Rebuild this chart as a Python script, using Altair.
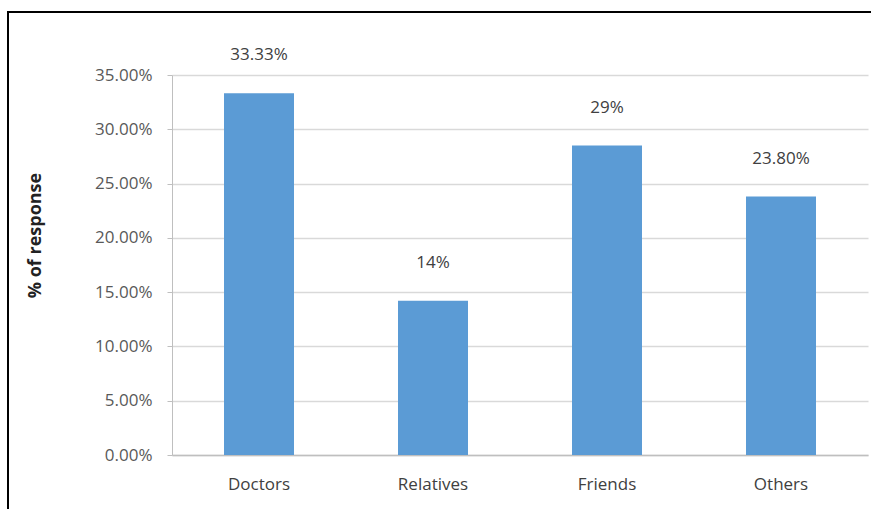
import altair as alt
import pandas as pd

categories = ["Doctors", "Relatives", "Friends", "Others"]
values = [0.3333, 0.142, 0.285, 0.238]
labels = ["33.33%", "14%", "29%", "23.80%"]

df = pd.DataFrame({"cat": categories, "val": values, "lab": labels})

FONT = "Open Sans"

base = alt.Chart(df).encode(
    x=alt.X("cat:N", sort=categories, title=None,
            scale=alt.Scale(paddingInner=0, paddingOuter=0),
            axis=alt.Axis(labelAngle=0, labelFont=FONT, labelFontSize=17, labelColor="#404040",
                          labelPadding=21, ticks=False, domainColor="#bfbfbf", domainWidth=1.5))
)

bars = base.mark_bar(size=70, color="#5B9BD5").encode(
    y=alt.Y("val:Q", title="% of response",
            scale=alt.Scale(domain=[0, 0.35]),
            axis=alt.Axis(format=".2%", values=[0, 0.05, 0.1, 0.15, 0.2, 0.25, 0.3, 0.35],
                          labelFont=FONT, labelFontSize=17, labelColor="#595959", labelPadding=15,
                          tickSize=5, tickColor="#bfbfbf", domainColor="#bfbfbf",
                          gridColor="#d9d9d9", gridWidth=1.5,
                          titleFont=FONT, titleFontSize=18, titleFontWeight="bold",
                          titleColor="#222222", titleX=-137, titleY=160,
                          titleAlign="center", titleBaseline="middle", titleAngle=270))
)

text = base.mark_text(dy=-38, font=FONT, fontSize=17, color="#404040").encode(
    y=alt.Y("val:Q"), text="lab:N"
)

frame = alt.Chart(df).mark_rect(filled=False, stroke="black", strokeWidth=2, clip=False).encode(
    x=alt.value(-164), x2=alt.value(720), y=alt.value(-63), y2=alt.value(480)
)

chart = alt.layer(bars, text, frame).properties(
    width=696, height=380,
    autosize=alt.AutoSizeParams(type="none"),
    padding={"left": 172, "top": 75, "right": 3, "bottom": 54},
    background="white",
).configure_view(stroke=None)

chart.save("out.html", embed_options={"renderer": "svg", "actions": False})
